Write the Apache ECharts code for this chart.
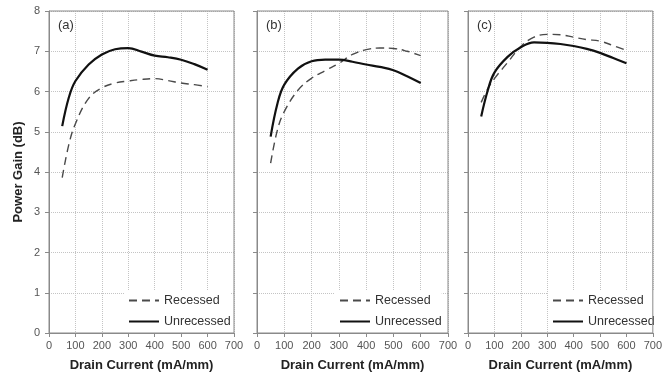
<!DOCTYPE html>
<html>
<head>
<meta charset="utf-8">
<script src="https://cdn.jsdelivr.net/npm/echarts@6/dist/echarts.min.js"></script>
<style>
  html, body { margin: 0; padding: 0; background: #fff; }
  #chartContainer { width: 665px; height: 378px; }
</style>
</head>
<body>
<div id="chartContainer"></div>
<script>
// drain current (mA/mm)
var currents = [50, 75, 100, 150, 200, 250, 300, 350, 400, 450, 500, 550, 600];
var xTicks = [0, 100, 200, 300, 400, 500, 600, 700];
var panelLabels = ["(a)", "(b)", "(c)"];

// power gain (dB)
var recessedA = [3.86, 4.68, 5.2, 5.83, 6.09, 6.21, 6.26, 6.3, 6.32, 6.27, 6.21, 6.17, 6.12];
var unrecessedA = [5.14, 5.85, 6.26, 6.67, 6.92, 7.05, 7.08, 6.99, 6.89, 6.85, 6.79, 6.68, 6.54];
var recessedB = [4.22, 5.05, 5.5, 6.03, 6.33, 6.52, 6.7, 6.92, 7.04, 7.08, 7.07, 7.0, 6.89];
var unrecessedB = [4.88, 5.7, 6.17, 6.57, 6.75, 6.79, 6.79, 6.74, 6.67, 6.61, 6.53, 6.38, 6.21];
var recessedC = [5.73, 6.07, 6.32, 6.72, 7.12, 7.35, 7.42, 7.41, 7.35, 7.29, 7.25, 7.14, 7.02];
var unrecessedC = [5.38, 6.03, 6.47, 6.86, 7.1, 7.22, 7.21, 7.18, 7.13, 7.06, 6.96, 6.83, 6.7];

var FONT = "Liberation Sans, Arial, sans-serif";
var GRIDS = [
  { left: 49, top: 11, width: 185, height: 322 },
  { left: 257, top: 11, width: 191, height: 322 },
  { left: 468, top: 11, width: 189, height: 322 },
];
var LEGEND_LEFT = [124, 335, 548];

function pairs(ys) {
  return currents.map((x, i) => [x, ys[i]]);
}

var CHART = echarts.init(document.getElementById("chartContainer"), null, { renderer: "canvas" });

var option = {
  animation: false,
  backgroundColor: "#fff",
  textStyle: { fontFamily: FONT },
  title: [],
  legend: [],
  grid: [],
  xAxis: [],
  yAxis: [],
  series: [],
};

var panelData = [
  [recessedA, unrecessedA],
  [recessedB, unrecessedB],
  [recessedC, unrecessedC],
];

for (let i = 0; i < 3; i++) {
  let g = GRIDS[i];
  // border drawn above the legend box so it stays visible
  option.grid.push(
    Object.assign({ show: true, z: 6, borderColor: "#8a8a8a", borderWidth: 1, backgroundColor: "transparent" }, g)
  );
  option.title.push({
    text: panelLabels[i],
    left: g.left + 9,
    top: 19,
    padding: 0,
    textStyle: { fontSize: 13, fontWeight: "normal", color: "#333", fontFamily: FONT },
  });
  option.xAxis.push({
    type: "value",
    gridIndex: i,
    min: 0,
    max: 700,
    interval: 100,
    name: "Drain Current (mA/mm)",
    nameLocation: "middle",
    nameGap: 26,
    nameTextStyle: { fontSize: 13, fontWeight: "bold", color: "#222", fontFamily: FONT },
    axisLine: { lineStyle: { color: "#8a8a8a" } },
    axisTick: { show: true, length: 4, lineStyle: { color: "#8a8a8a" } },
    axisLabel: {
      fontSize: 11,
      color: "#555",
      margin: 7,
      fontFamily: FONT,
      formatter: (v) => (xTicks.includes(v) ? String(v) : ""),
    },
    splitLine: { show: true, lineStyle: { color: "#c4c4c4", type: "dotted", width: 1 } },
  });
  option.yAxis.push({
    type: "value",
    gridIndex: i,
    min: 0,
    max: 8,
    interval: 1,
    name: i == 0 ? "Power Gain (dB)" : "",
    nameLocation: "middle",
    nameRotate: 90,
    nameGap: 24,
    nameTextStyle: { fontSize: 13, fontWeight: "bold", color: "#222", fontFamily: FONT },
    axisLine: { show: true, lineStyle: { color: "#8a8a8a" } },
    axisTick: { show: true, length: 4, lineStyle: { color: "#8a8a8a" } },
    axisLabel: { show: i == 0, fontSize: 11, color: "#555", margin: 9, fontFamily: FONT },
    splitLine: { show: true, lineStyle: { color: "#c4c4c4", type: "dotted", width: 1 } },
  });
  option.series.push({
    name: "Recessed",
    type: "line",
    xAxisIndex: i,
    yAxisIndex: i,
    smooth: 0.4,
    symbol: "none",
    color: "#4a4a4a",
    lineStyle: { color: "#4a4a4a", width: 1.4, type: [8, 5] },
    data: pairs(panelData[i][0]),
  });
  option.series.push({
    name: "Unrecessed",
    type: "line",
    xAxisIndex: i,
    yAxisIndex: i,
    smooth: 0.4,
    symbol: "none",
    color: "#111",
    lineStyle: { color: "#111", width: 2.2 },
    data: pairs(panelData[i][1]),
  });
  option.legend.push({
    data: ["Recessed", "Unrecessed"],
    orient: "vertical",
    left: LEGEND_LEFT[i],
    top: 290,
    padding: [4, 0, 4, 4],
    itemWidth: 30,
    itemHeight: 14,
    itemGap: 8,
    backgroundColor: "#fff",
    selectedMode: false,
    itemStyle: { opacity: 0 },
    textStyle: { fontSize: 12.5, color: "#333", fontFamily: FONT },
  });
}

CHART.setOption(option);
</script>
</body>
</html>
